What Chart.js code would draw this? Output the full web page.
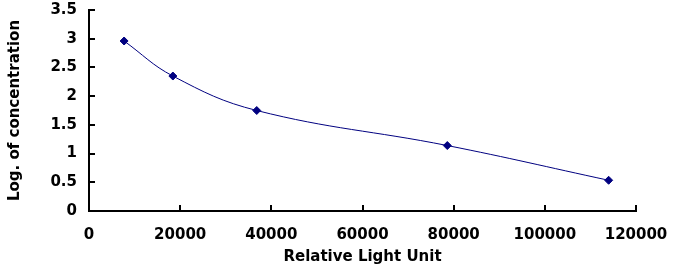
<!DOCTYPE html>
<html>
<head>
<meta charset="utf-8">
<script src="https://cdn.jsdelivr.net/npm/chart.js@4"></script>
<style>
html,body{margin:0;padding:0;background:#fff;}
#wrap{width:673px;height:270px;}
</style>
</head>
<body>
<div id="wrap"><canvas id="c" width="673" height="270"></canvas></div>
<script>
const xValues = [7700, 18400, 36800, 78600, 114000];
const yValues = [2.96, 2.35, 1.75, 1.14, 0.535];
const xTitle = "Relative Light Unit";
const yTitle = "Log. of concentration";
const xRange = [0, 120000, 20000];
const yRange = [0, 3.5, 0.5];

const points = xValues.map((x, i) => ({x: x, y: yValues[i]}));
const FONT = {family: "'DejaVu Sans'", size: 15, weight: 'bold'};

const innerTicks = {
  id: 'innerTicks',
  afterDraw(chart) {
    const ctx = chart.ctx;
    const xs = chart.scales.x, ys = chart.scales.y;
    const area = chart.chartArea;
    ctx.save();
    ctx.strokeStyle = '#000';
    ctx.lineWidth = 2;
    ctx.beginPath();
    xs.ticks.forEach(t => {
      const px = Math.round(xs.getPixelForValue(t.value));
      if (t.value === xs.min) return;
      ctx.moveTo(px, area.bottom);
      ctx.lineTo(px, area.bottom - 6);
    });
    ys.ticks.forEach(t => {
      const py = Math.round(ys.getPixelForValue(t.value));
      if (t.value === ys.min) return;
      ctx.moveTo(area.left, py);
      ctx.lineTo(area.left + 6, py);
    });
    ctx.stroke();
    ctx.restore();
  }
};

function zeroPad(s) { s.paddingLeft = 0; s.paddingRight = 0; s.paddingTop = 0; s.paddingBottom = 0; }

new Chart(document.getElementById('c'), {
  type: 'scatter',
  data: {
    datasets: [{
      data: points,
      showLine: true,
      borderColor: '#000080',
      borderWidth: 1,
      backgroundColor: '#000080',
      pointStyle: 'rectRot',
      pointRadius: 4,
      pointBorderWidth: 1,
      tension: 0.4
    }]
  },
  options: {
    responsive: false,
    animation: false,
    devicePixelRatio: 1,
    layout: {padding: {left: 0, right: 37, top: 10, bottom: 0}},
    plugins: {legend: {display: false}, tooltip: {enabled: false}},
    scales: {
      x: {
        type: 'linear',
        min: xRange[0], max: xRange[1],
        afterFit: s => { s.height = 59; zeroPad(s); },
        ticks: {stepSize: xRange[2], color: '#000', font: FONT, padding: 15,
          callback: v => String(v), maxRotation: 0},
        grid: {drawOnChartArea: false, drawTicks: false},
        border: {display: true, color: '#000', width: 2},
        title: {display: true, text: xTitle, color: '#000', font: FONT, padding: 4}
      },
      y: {
        type: 'linear',
        min: yRange[0], max: yRange[1],
        afterFit: s => { s.width = 89; zeroPad(s); },
        ticks: {stepSize: yRange[2], color: '#000', font: FONT, padding: 12,
          callback: v => String(v)},
        grid: {drawOnChartArea: false, drawTicks: false},
        border: {display: true, color: '#000', width: 2},
        title: {display: true, text: yTitle, color: '#000', font: FONT, padding: 6}
      }
    }
  },
  plugins: [innerTicks]
});
</script>
</body>
</html>
